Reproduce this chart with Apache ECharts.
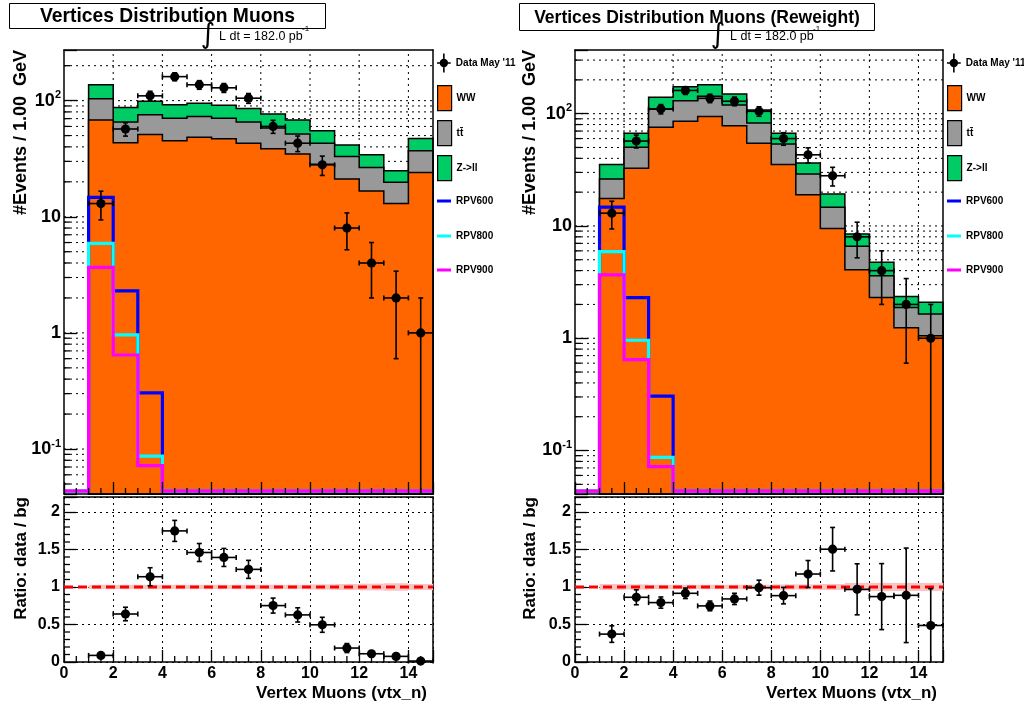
<!DOCTYPE html>
<html><head><meta charset="utf-8">
<script src="https://cdn.jsdelivr.net/npm/echarts@6/dist/echarts.min.js"></script>
<style>html,body{margin:0;padding:0;background:#fff}#c{width:1024px;height:707px}</style>
</head><body><div id="c"></div>
<script>
// ---------------- data ----------------
const binEdges = [0,1,2,3,4,5,6,7,8,9,10,11,12,13,14,15];
const binCenters = [1.5,2.5,3.5,4.5,5.5,6.5,7.5,8.5,9.5,10.5,11.5,12.5,13.5,14.5];

// left panel (no reweight) — stacked components per bin 0..14
const wwLeft  = [0, 68, 43.5, 51, 45.2, 48.5, 47, 43, 38.5, 34.7, 28.3, 21.1, 16.7, 13, 24.1];
const ttLeft  = [0, 36, 22, 24.7, 25.3, 24.5, 23.5, 22.5, 19.5, 16.8, 14.7, 12, 9.9, 6.8, 13];
const zllLeft = [0, 33, 22, 22.9, 21.9, 21.8, 21, 20, 18.8, 16.5, 12, 8.5, 7.6, 5.1, 10.2];

// right panel (reweight)
const wwRight  = [0, 17.6, 32.6, 75.5, 85.4, 94.6, 78.2, 54.5, 35.2, 19, 9.5, 4.08, 2.31, 1.24, 1.05];
const ttRight  = [0, 8.6, 17.5, 34.5, 45.2, 48, 41.3, 28.1, 18.5, 10, 5.2, 2.52, 1.29, 0.64, 0.59];
const zllRight = [0, 9.0, 16.8, 29.7, 43.4, 38.4, 30.2, 25.4, 13.2, 7.4, 4.6, 1.9, 1.14, 0.47, 0.45];

// signal histograms (same in both panels)
const rpv600 = [0, 14.7, 2.3, 0.305, 0,0,0,0,0,0,0,0,0,0,0];
const rpv800 = [0, 5.9, 0.96, 0.087, 0,0,0,0,0,0,0,0,0,0,0];
const rpv900 = [0, 3.66, 0.645, 0.072, 0,0,0,0,0,0,0,0,0,0,0];

// data May '11
const dataCounts = [13, 57, 110, 161, 137, 129, 105, 60, 43, 28, 8, 4, 2, 1];
const dataErr    = [3.6, 7.5, 10.5, 12.7, 11.7, 11.4, 10.2, 7.7, 6.6, 5.3, 2.8, 2.0, 1.4, 1.0];

// ratio data / bg
const ratioLeft     = [0.088, 0.64, 1.137, 1.748, 1.46, 1.394, 1.235, 0.752, 0.628, 0.496, 0.186, 0.11, 0.075, 0.013];
const ratioLeftErr  = [0.025, 0.09, 0.12, 0.14, 0.12, 0.12, 0.12, 0.1, 0.095, 0.1, 0.06, 0.04, 0.03, 0.015];
const ratioRight    = [0.372, 0.863, 0.792, 0.916, 0.748, 0.841, 0.991, 0.885, 1.173, 1.504, 0.969, 0.872, 0.889, 0.487];
const ratioRightErr = [0.11, 0.1, 0.075, 0.07, 0.065, 0.075, 0.1, 0.11, 0.18, 0.29, 0.34, 0.44, 0.63, 0.49];
// MC stat band half-widths per bin 0..14
const bandLeft  = [0, 0.03, 0.03, 0.03, 0.03, 0.03, 0.03, 0.03, 0.03, 0.03, 0.035, 0.04, 0.045, 0.05, 0.04];
const bandRight = [0, 0.04, 0.035, 0.03, 0.03, 0.03, 0.03, 0.03, 0.035, 0.035, 0.04, 0.055, 0.055, 0.055, 0.055];

// tick labels
const xTickLabels = ['0','2','4','6','8','10','12','14'];
const ratioTickLabels = ['0','0.5','1','1.5','2'];

// ---------------- config ----------------
const FONT = 'Liberation Sans';
const Y_MIN = 0.041, Y_MAX_L = 273, Y_MAX_R = 369, RPV_FLOOR = 0.0435;
const C_WW = '#ff6600', C_TT = '#999999', C_Z = '#00cc66';
const C_600 = '#0000ff', C_800 = '#00ffff', C_900 = '#ff00ff';
const TT_NAME = 'tt\u0304';
const DATA_NAME = "Data May '11";

function stackTops(...arrs){ return arrs[0].map((_, i) => arrs.reduce((s, a) => s + a[i], 0)); }
function ln(a, b, st){ return {type:'line', shape:{x1:a[0], y1:a[1], x2:b[0], y2:b[1]}, style:st}; }

function gridLinesSeries(xi, yi, yMin, yMax){
  return {type:'custom', xAxisIndex:xi, yAxisIndex:yi, z:1, silent:true, data:[[1,1]],
    renderItem:(p, api) => {
      const st = {stroke:'#000', lineWidth:1, lineDash:[2,4]};
      const ch = [];
      for (let k=-2;k<=3;k++) for (let m=1;m<=9;m++){
        const v = m*Math.pow(10,k);
        if (v <= yMin*1.001 || v >= yMax*0.999) continue;
        ch.push(ln(api.coord([0,v]), api.coord([15,v]), st));
      }
      for (let x=2;x<15;x+=2) ch.push(ln(api.coord([x,yMin]), api.coord([x,yMax]), st));
      return {type:'group', children:ch};
    }};
}

function histFill(name, xi, yi, tops, color, z){
  return {type:'custom', name, xAxisIndex:xi, yAxisIndex:yi, z, itemStyle:{color}, data:[[1.5,1]],
    renderItem:(p, api) => {
      let first = tops.findIndex(v => v > 0);
      const last = tops.length - 1;
      const pts = [api.coord([binEdges[first], Y_MIN])];
      for (let i=first;i<=last;i++){
        pts.push(api.coord([binEdges[i], tops[i]]));
        pts.push(api.coord([binEdges[i+1], tops[i]]));
      }
      pts.push(api.coord([binEdges[last+1], Y_MIN]));
      return {type:'polygon', shape:{points:pts}, style:{fill:color, stroke:'#000', lineWidth:1.5}};
    }};
}

function histLine(name, xi, yi, vals, color, z){
  return {type:'custom', name, xAxisIndex:xi, yAxisIndex:yi, z, itemStyle:{color}, data:[[1.5,1]],
    renderItem:(p, api) => {
      const pts = [];
      for (let i=0;i<vals.length;i++){
        const v = vals[i] > 0 ? vals[i] : RPV_FLOOR;
        pts.push(api.coord([binEdges[i], v]));
        pts.push(api.coord([binEdges[i+1], v]));
      }
      return {type:'polyline', shape:{points:pts}, style:{fill:null, stroke:color, lineWidth:3.2}};
    }};
}

function pointsSeries(name, xi, yi, vals, errs, floor, z){
  return {type:'custom', name, xAxisIndex:xi, yAxisIndex:yi, z, itemStyle:{color:'#000'},
    data: binCenters.map((x,i) => [x, vals[i], errs[i]]),
    renderItem:(p, api) => {
      const x = api.value(0), y = api.value(1), e = api.value(2);
      const c = api.coord([x,y]);
      const lo = api.coord([x, Math.max(y-e, floor)]);
      const hi = api.coord([x, y+e]);
      const l = api.coord([x-0.5, y]), r = api.coord([x+0.5, y]);
      const st = {stroke:'#000', lineWidth:1.6};
      const ch = [ln(lo,hi,st), ln(l,r,st),
        ln([hi[0]-2.5,hi[1]],[hi[0]+2.5,hi[1]],st),
        ln([l[0],l[1]-2.5],[l[0],l[1]+2.5],st),
        ln([r[0],r[1]-2.5],[r[0],r[1]+2.5],st)];
      if (y-e > floor) ch.push(ln([lo[0]-2.5,lo[1]],[lo[0]+2.5,lo[1]],st));
      ch.push({type:'circle', shape:{cx:c[0], cy:c[1], r:4.6}, style:{fill:'#000'}});
      return {type:'group', children:ch};
    }};
}

function minorTicksMain(xi, yi, yMax){
  return {type:'custom', xAxisIndex:xi, yAxisIndex:yi, z:30, silent:true, data:[[1,1]],
    renderItem:(p, api) => {
      const st = {stroke:'#000', lineWidth:1.3};
      const ch = [];
      for (let k=-2;k<=3;k++) for (let m=2;m<=9;m++){
        const v = m*Math.pow(10,k);
        if (v <= Y_MIN || v >= yMax) continue;
        const a = api.coord([0,v]); ch.push(ln(a,[a[0]+6,a[1]],st));
      }
      for (let x=0.5;x<15;x+=0.5){ if (x%2===0) continue;
        const a = api.coord([x,Y_MIN]); ch.push(ln(a,[a[0],a[1]-6],st)); }
      return {type:'group', children:ch};
    }};
}
function minorTicksRatio(xi, yi){
  return {type:'custom', xAxisIndex:xi, yAxisIndex:yi, z:30, silent:true, data:[[1,1]],
    renderItem:(p, api) => {
      const st = {stroke:'#000', lineWidth:1.3};
      const ch = [];
      for (let j=1;j<22;j++){ if (j%5===0) continue;
        const a = api.coord([0,j/10]); ch.push(ln(a,[a[0]+6,a[1]],st)); }
      for (let x=0.5;x<15;x+=0.5){ if (x%2===0) continue;
        const a = api.coord([x,0]); ch.push(ln(a,[a[0],a[1]-6],st)); }
      return {type:'group', children:ch};
    }};
}
function bandSeries(xi, yi, band){
  const d = [];
  for (let i=0;i<band.length;i++) if (band[i] > 0) d.push([binEdges[i], binEdges[i+1], band[i]]);
  return {type:'custom', xAxisIndex:xi, yAxisIndex:yi, z:2, silent:true, data:d,
    renderItem:(p, api) => {
      const a = api.coord([api.value(0), 1+api.value(2)]), b = api.coord([api.value(1), 1-api.value(2)]);
      return {type:'rect', shape:{x:a[0], y:a[1], width:b[0]-a[0], height:b[1]-a[1]}, style:{fill:'#f8c4c4'}};
    }};
}
function unityLine(xi, yi){
  return {type:'custom', xAxisIndex:xi, yAxisIndex:yi, z:3, silent:true, data:[[1,1]],
    renderItem:(p, api) => ln(api.coord([0,1]), api.coord([15,1]), {stroke:'#ff0000', lineWidth:3, lineDash:[9,5]})};
}

function logLabel(v){
  const lg = Math.log10(v), e = Math.round(lg);
  if (Math.abs(lg - e) > 1e-4) return '';
  if (e === 0) return '{b|1}';
  if (e === 1) return '{b|10}';
  return '{b|10}{s|' + (e < 0 ? '-' : '') + Math.abs(e) + '}';
}
const logRich = {
  b:{fontSize:18, fontWeight:'bold', fontFamily:FONT, color:'#000', lineHeight:22},
  s:{fontSize:11, fontWeight:'bold', fontFamily:FONT, color:'#000', lineHeight:11, verticalAlign:'top'}
};
const frameLine = {show:true, onZero:false, lineStyle:{color:'#000', width:1.5}};

function mainXAxis(grid){
  return [
    {type:'value', gridIndex:grid, min:0, max:15, interval:2, position:'bottom', z:10,
     axisLine:frameLine, axisTick:{show:true, inside:true, length:12, lineStyle:{color:'#000', width:1.3}},
     axisLabel:{show:false}, splitLine:{show:false}},
    {type:'value', gridIndex:grid, min:0, max:15, position:'top', z:10, axisLine:frameLine,
     axisTick:{show:false}, axisLabel:{show:false}, splitLine:{show:false}}
  ];
}
function ratioXAxis(grid){
  return [
    {type:'value', gridIndex:grid, min:0, max:15, interval:2, position:'bottom',
     axisLine:frameLine, axisTick:{show:true, inside:true, length:12, lineStyle:{color:'#000', width:1.3}},
     axisLabel:{show:true, margin:4, color:'#000', fontSize:16, fontWeight:'bold', fontFamily:FONT,
       formatter:v => { const i = xTickLabels.indexOf(String(v)); return i >= 0 ? xTickLabels[i] : ''; }},
     splitLine:{show:true, lineStyle:{color:'#000', width:1, type:[2,4]}}},
    {type:'value', gridIndex:grid, min:0, max:15, position:'top', axisLine:frameLine,
     axisTick:{show:false}, axisLabel:{show:false}, splitLine:{show:false}}
  ];
}
function mainYAxis(grid, yMax){
  return [
    {type:'log', logBase:10, gridIndex:grid, min:Y_MIN, max:yMax, position:'left', z:10,
     axisLine:frameLine, axisTick:{show:true, inside:true, length:13, lineStyle:{color:'#000', width:1.3}},
     axisLabel:{show:true, margin:3, formatter:logLabel, rich:logRich}, splitLine:{show:false}},
    {type:'value', gridIndex:grid, min:0, max:1, position:'right', z:10, axisLine:frameLine,
     axisTick:{show:false}, axisLabel:{show:false}, splitLine:{show:false}}
  ];
}
function ratioYAxis(grid){
  return [
    {type:'value', gridIndex:grid, min:0, max:2.2, interval:0.5, position:'left',
     axisLine:frameLine, axisTick:{show:true, inside:true, length:12, lineStyle:{color:'#000', width:1.3}},
     axisLabel:{show:true, margin:4, color:'#000', fontSize:16, fontWeight:'bold', fontFamily:FONT,
       formatter:v => { const i = ratioTickLabels.indexOf(String(Math.round(v*10)/10)); return i >= 0 ? ratioTickLabels[i] : ''; }},
     splitLine:{show:true, lineStyle:{color:'#000', width:1, type:[2,4]}}},
    {type:'value', gridIndex:grid, min:0, max:1, position:'right', axisLine:frameLine,
     axisTick:{show:false}, axisLabel:{show:false}, splitLine:{show:false}}
  ];
}

function mainSeries(xi, yi, yMax, ww, tt, zll){
  return [
    gridLinesSeries(xi, yi, Y_MIN, yMax),
    histFill('Z->ll', xi, yi, stackTops(ww, tt, zll), C_Z, 2),
    histFill(TT_NAME, xi, yi, stackTops(ww, tt), C_TT, 3),
    histFill('WW', xi, yi, ww, C_WW, 4),
    histLine('RPV600', xi, yi, rpv600, C_600, 5),
    histLine('RPV800', xi, yi, rpv800, C_800, 6),
    histLine('RPV900', xi, yi, rpv900, C_900, 7),
    pointsSeries(DATA_NAME, xi, yi, dataCounts, dataErr, Y_MIN, 8),
    minorTicksMain(xi, yi, yMax)
  ];
}
function ratioSeries(xi, yi, r, re, band){
  return [
    bandSeries(xi, yi, band),
    unityLine(xi, yi),
    pointsSeries('ratio', xi, yi, r, re, 0, 8),
    minorTicksRatio(xi, yi)
  ];
}

// legend entries: name, icon, icon height, style, vertical centre
const dataIcon = 'path://M0,8.25h13v1.5h-13z M5.75,0h1.5v18h-1.5z M10.5,9a4,4 0 1,1 -8,0a4,4 0 1,1 8,0z';
const legendItems = [
  {name:DATA_NAME, icon:dataIcon, h:19, cy:63,  itemStyle:{color:'#000', borderWidth:0}},
  {name:'WW',      icon:'rect',   h:25, cy:97.5, itemStyle:{color:C_WW, borderColor:'#000', borderWidth:1.2}},
  {name:TT_NAME,   icon:'rect',   h:25, cy:132.5, itemStyle:{color:C_TT, borderColor:'#000', borderWidth:1.2}},
  {name:'Z->ll',   icon:'rect',   h:25, cy:167.5, itemStyle:{color:C_Z, borderColor:'#000', borderWidth:1.2}},
  {name:'RPV600',  icon:'rect',   h:3,  cy:201, itemStyle:{color:C_600, borderWidth:0}},
  {name:'RPV800',  icon:'rect',   h:3,  cy:236, itemStyle:{color:C_800, borderWidth:0}},
  {name:'RPV900',  icon:'rect',   h:3,  cy:270, itemStyle:{color:C_900, borderWidth:0}}
];
function legendCfgs(left){
  return legendItems.map(it => {
    const boxH = Math.max(it.h, 12);
    return {left, top:it.cy - boxH/2, orient:'vertical', itemWidth:14, itemHeight:it.h, selectedMode:false,
      padding:0, textStyle:{color:'#000', fontSize:10, fontWeight:'bold', fontFamily:FONT, lineHeight:12},
      data:[{name:it.name, icon:it.icon, itemStyle:it.itemStyle}]};
  });
}

function txt(x, y, text, font, align, valign, extra){
  return Object.assign({type:'text', x, y, z:100,
    style:{text, font, fill:'#000', textAlign:align, textVerticalAlign:valign, align, verticalAlign:valign}}, extra||{});
}
const AXT_FONT = 'bold 18px "Liberation Sans"';
const graphics = [
  {type:'rect', z:99, shape:{x:9.5, y:3.5, width:316, height:25}, style:{fill:'#fff', stroke:'#000', lineWidth:1}},
  txt(167.5, 16.5, 'Vertices Distribution Muons', 'bold 19.3px "Liberation Sans"', 'center', 'middle'),
  {type:'rect', z:99, shape:{x:519.5, y:3.5, width:355, height:27}, style:{fill:'#fff', stroke:'#000', lineWidth:1}},
  txt(697, 18.5, 'Vertices Distribution Muons (Reweight)', 'bold 17.5px "Liberation Sans"', 'center', 'middle'),
  // luminosity labels
  txt(208, 35.5, '\u222B', '28px "DejaVu Sans"', 'center', 'middle'),
  txt(219, 37, 'L dt = 182.0 pb', '12.5px "Liberation Sans"', 'left', 'middle'),
  txt(302, 29, '-1', '8px "Liberation Sans"', 'left', 'middle'),
  txt(718, 35.5, '\u222B', '28px "DejaVu Sans"', 'center', 'middle'),
  txt(730, 36.5, 'L dt = 182.0 pb', '12.5px "Liberation Sans"', 'left', 'middle'),
  txt(813, 28.5, '-1', '8px "Liberation Sans"', 'left', 'middle'),
  // axis titles
  txt(21, 50, '#Events / 1.00  GeV', AXT_FONT, 'right', 'middle', {rotation:Math.PI/2}),
  txt(21, 497, 'Ratio: data / bg', 'bold 17px "Liberation Sans"', 'right', 'middle', {rotation:Math.PI/2}),
  txt(530, 50, '#Events / 1.00  GeV', AXT_FONT, 'right', 'middle', {rotation:Math.PI/2}),
  txt(530, 497, 'Ratio: data / bg', 'bold 17px "Liberation Sans"', 'right', 'middle', {rotation:Math.PI/2}),
  txt(427, 693, 'Vertex Muons (vtx_n)', 'bold 17px "Liberation Sans"', 'right', 'middle'),
  txt(937, 693, 'Vertex Muons (vtx_n)', 'bold 17px "Liberation Sans"', 'right', 'middle')
];

const chart = echarts.init(document.getElementById('c'), null, {renderer:'canvas'});
chart.setOption({
  animation:false,
  backgroundColor:'#fff',
  textStyle:{fontFamily:FONT},
  grid:[
    {left:64, top:50, width:369, height:444, outerBoundsMode:'none'},
    {left:64, top:497, width:369, height:165, outerBoundsMode:'none'},
    {left:575, top:50, width:368, height:444, outerBoundsMode:'none'},
    {left:575, top:497, width:368, height:165, outerBoundsMode:'none'}
  ],
  xAxis:[...mainXAxis(0), ...ratioXAxis(1), ...mainXAxis(2), ...ratioXAxis(3)],
  yAxis:[...mainYAxis(0, Y_MAX_L), ...ratioYAxis(1), ...mainYAxis(2, Y_MAX_R), ...ratioYAxis(3)],
  legend:[...legendCfgs(437), ...legendCfgs(947)],
  series:[
    ...mainSeries(0, 0, Y_MAX_L, wwLeft, ttLeft, zllLeft),
    ...ratioSeries(2, 2, ratioLeft, ratioLeftErr, bandLeft),
    ...mainSeries(4, 4, Y_MAX_R, wwRight, ttRight, zllRight),
    ...ratioSeries(6, 6, ratioRight, ratioRightErr, bandRight)
  ],
  graphic:graphics
});
</script></body></html>
